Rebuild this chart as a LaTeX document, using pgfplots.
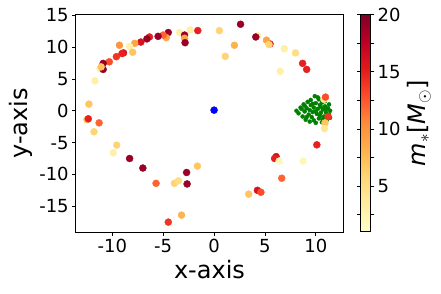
\documentclass[border=0pt]{standalone}
\usepackage{fontspec}
\setmainfont{DejaVu Sans}
\usepackage{pgfplots}
\pgfplotsset{compat=1.18}
\definecolor{mplgreen}{RGB}{0,128,0}
\definecolor{mplblue}{RGB}{0,0,255}
\begin{document}
\begin{tikzpicture}
\begin{axis}[
  name=ax,
  scale only axis, width=267.6pt, height=217.6pt,
  xmin=-13.6, xmax=12.7, ymin=-19.1, ymax=15.1,
  xtick={-10,-5,0,5,10}, ytick={-15,-10,-5,0,5,10,15},
  xtick pos=bottom, ytick pos=left,
  tick align=outside, major tick length=3.5pt,
  tick style={black, line width=0.8pt},
  axis line style={line width=0.8pt},
  /pgf/number format/assume math mode=true,
  ticklabel style={font=\fontsize{18}{21}\selectfont},
  xlabel={x-axis}, ylabel={y-axis},
  label style={font=\fontsize{24}{28}\selectfont},
  colormap={ylorrd}{rgb255=(255,255,204) rgb255=(255,237,160) rgb255=(254,217,118) rgb255=(254,178,76) rgb255=(253,141,60) rgb255=(252,78,42) rgb255=(227,26,28) rgb255=(189,0,38) rgb255=(128,0,38)},
  colorbar, point meta min=1, point meta max=20,
  colorbar style={
    at={(1.065,1)}, anchor=north west,
    scale only axis, width=10pt, height=217pt,
    ytick={5,10,15,20}, minor ytick={2.5,7.5,12.5,17.5},
    yticklabel pos=right,
    tick align=outside, major tick length=3.5pt, minor tick length=3.5pt,
    tick style={black, line width=0.8pt},
    axis line style={line width=0.8pt},
    /pgf/number format/assume math mode=true,
    yticklabel style={font=\fontsize{18}{21}\selectfont},
    ylabel={{\itshape m}$_*$[{\itshape M}$_\odot$]},
    ylabel near ticks,
    ylabel style={font=\fontsize{24}{28}\selectfont},
  },
]
\addplot[only marks, mark=*, mark size=2pt, color=mplgreen] coordinates {
(8.1,0.0)(8.3,-0.4)(8.5,0.5)(8.7,-0.9)(8.8,1.0)(8.9,-0.1)(9.0,-1.4)(9.1,0.4)(9.2,1.4)(9.3,-0.6)
(9.4,-1.7)(9.5,0.9)(9.6,-1.0)(9.5,1.7)(9.7,-0.2)(9.8,0.5)(9.8,-1.5)(9.9,2.3)(10.0,1.2)(10.0,-1.9)
(10.1,-0.5)(10.2,0.3)(10.3,1.8)(10.3,-1.2)(10.4,0.9)(10.5,-0.3)(10.6,-1.8)(10.6,1.3)(10.7,0.2)(10.8,-0.9)
(10.9,0.7)(11.0,-0.3)(11.1,-1.4)(11.2,0.4)(11.3,-0.6)(11.4,0.0)(11.4,-1.1)(11.3,1.0)(10.2,2.1)(10.9,1.5)
(9.1,-1.0)(8.6,0.3)(9.4,0.1)(10.0,-0.1)(10.5,0.6)(10.7,-1.3)(11.0,0.2)(9.7,1.1)(10.4,-0.8)(8.9,0.8)
};
\addplot[scatter, only marks, mark=*, mark size=3.5pt,
  scatter/use mapped color={draw=mapped color, fill=mapped color},
  point meta=explicit] table[meta=m] {
x y m
-1.6 12.6 15
-2.36 12.7 3
-3.4 12.3 3
-2.9 11.9 19
-2.9 11.4 9
-2.85 10.7 19
-4.5 12.3 19
-4.7 11.5 9
-5.0 11.9 12
-5.5 11.7 19
-6.35 11.6 15
-6.6 11.3 19
-7.2 10.8 16
-7.8 10.6 9
-8.3 10.1 3
-8.0 9.2 7
-9.3 10.3 10
-8.9 9.1 16
-9.05 9.0 15
-9.6 8.5 14
-10.3 7.7 13
-10.9 7.45 19
-11.2 6.6 3
-10.9 6.5 19
-11.1 6.9 7
-11.7 4.7 3
-12.3 1.05 7
-12.5 -1.4 7
-12.36 -1.26 15
-11.3 -1.9 12
-11.8 -3.3 6
-9.57 -5.4 6
-9.9 -6.6 3
-8.3 -7.5 19
-7.0 -9.0 19
-5.7 -11.4 12
-3.9 -11.4 6
-3.5 -11.0 5
-2.7 -9.7 19
-2.65 -11.5 19
-1.64 -8.7 7
-4.5 -17.5 14
-3.2 -16.4 8
0.52 12.6 6
2.6 13.6 19
1.1 8.55 6
2.0 10.3 8
4.3 11.8 3
4.1 11.6 19
5.5 10.5 15
5.15 11.1 9
5.4 10.4 6
6.9 9.75 3
8.0 9.1 5
6.5 6.2 3
8.7 7.45 15
9.1 6.5 15
10.8 1.8 4
10.95 2.15 13
11.2 -0.9 14
10.9 -1.9 7
10.85 -2.8 4
10.1 -5.35 15
6.1 -7.2 16
5.95 -7.5 15
6.4 -7.9 2
8.75 -7.9 2
6.65 -10.6 12
4.26 -12.5 16
4.6 -12.8 13
3.4 -13.1 7
};
\addplot[only marks, mark=*, mark size=3.5pt, color=mplblue] coordinates {(0,0.1)};
\end{axis}
\path (ax.south west) ++(-75.7pt,-60.7pt) rectangle ++(441pt,293pt);
\end{tikzpicture}
\end{document}
